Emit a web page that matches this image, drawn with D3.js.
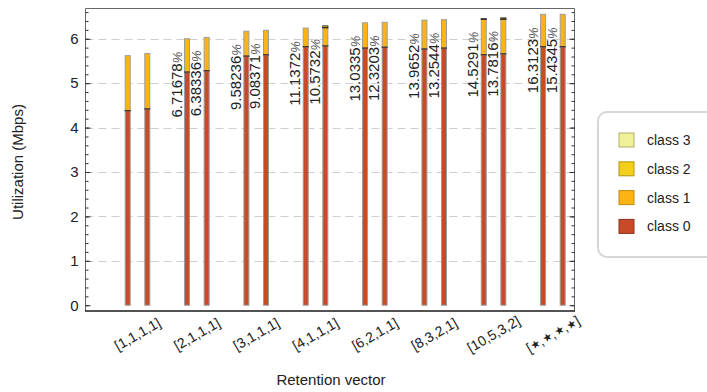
<!DOCTYPE html>
<html>
<head>
<meta charset="utf-8">
<script src="https://cdn.jsdelivr.net/npm/d3@7"></script>
<style>
  body { margin: 0; background: #fff; }
  text { font-family: "Liberation Sans", Arial, sans-serif; fill: #222; }
</style>
</head>
<body>
<svg id="chart" width="707" height="392"></svg>
<script>
// Retention vectors (two runs per vector)
const groups = ["[1,1,1,1]", "[2,1,1,1]", "[3,1,1,1]", "[4,1,1,1]",
                "[6,2,1,1]", "[8,3,2,1]", "[10,5,3,2]", "[\u2605,\u2605,\u2605,\u2605]"];

// Utilization per class (Mbps), one entry per bar, two bars per group
const class0 = [4.38, 4.42, 5.25, 5.28, 5.61, 5.64, 5.82, 5.84,
                5.79, 5.81, 5.77, 5.79, 5.64, 5.66, 5.82, 5.82];
const class1 = [1.24, 1.25, 0.75, 0.75, 0.56, 0.55, 0.42, 0.41,
                0.57, 0.56, 0.65, 0.64, 0.80, 0.78, 0.73, 0.73];
const class2 = [0, 0, 0, 0, 0, 0, 0, 0.04,
                0, 0, 0, 0, 0.01, 0.03, 0, 0];
const class3 = [0, 0, 0, 0, 0, 0, 0, 0,
                0, 0, 0, 0, 0, 0, 0, 0];

// Percentage annotations per bar (none for the baseline vector)
const shareLabels = [null, null, 6.71678, 6.38336, 9.58236, 9.08371, 11.1372, 10.5732,
                     13.0335, 12.3203, 13.9652, 13.2544, 14.5291, 13.7816, 16.3123, 15.4345];

const yTicks = [0, 1, 2, 3, 4, 5, 6];
const classNames = ["class 0", "class 1", "class 2", "class 3"];
const classColors = ["#C94A29", "#FBB414", "#F3CF1B", "#F0F09B"];
const classEdges = ["#8A3420", "#C08A10", "#B09515", "#B0B070"];

const svg = d3.select("#chart");

const frame = { left: 85.5, right: 574.5, top: 8.5, bottom: 311 };

const y = d3.scaleLinear().domain([-0.13, 6.67]).range([311, 9]);
const xg = d3.scalePoint().domain(groups).range([137.5, 552.9]);
const xs = d3.scalePoint().domain([0, 1]).range([-9.8, 9.8]);

const rows = class0.map((v, i) => ({
  idx: i, group: groups[Math.floor(i / 2)], slot: i % 2,
  c0: v, c1: class1[i], c2: class2[i], c3: class3[i], label: shareLabels[i]
}));
const keys = ["c0", "c1", "c2", "c3"];
const stacked = d3.stack().keys(keys)(rows);
const barX = d => xg(d.group) + xs(d.slot);
const total = d => d.c0 + d.c1 + d.c2 + d.c3;

// Dashed horizontal grid
svg.append("g")
  .selectAll("line")
  .data(yTicks.filter(t => t > 0))
  .join("line")
  .attr("x1", frame.left).attr("x2", frame.right)
  .attr("y1", d => Math.round(y(d)) + 0.5).attr("y2", d => Math.round(y(d)) + 0.5)
  .attr("stroke", "#cfcfcf").attr("stroke-width", 1)
  .attr("stroke-dasharray", "8,5");

// Frame
svg.append("path")
  .attr("d", `M${frame.left},${frame.bottom}V${frame.top}H${frame.right}V${frame.bottom}`)
  .attr("fill", "none").attr("stroke", "#666").attr("stroke-width", 1);
svg.append("line")
  .attr("x1", frame.left - 0.5).attr("x2", frame.right + 0.5)
  .attr("y1", frame.bottom).attr("y2", frame.bottom)
  .attr("stroke", "#1a1a1a").attr("stroke-width", 1.5);

// Y axes: major + minor ticks, inward on both sides
const minorTicks = d3.range(0, 6.7, 0.2).map(v => +v.toFixed(1));
const leftMajor = svg.append("g").attr("transform", `translate(${frame.left},0)`)
  .call(d3.axisLeft(y).tickValues(yTicks).tickSize(-5).tickSizeOuter(0).tickPadding(7).tickFormat(d3.format("d")));
leftMajor.select(".domain").remove();
leftMajor.selectAll("text").style("font-size", "15px").attr("fill", "#222");
leftMajor.selectAll("line").attr("stroke", "#333");

const leftMinor = svg.append("g").attr("transform", `translate(${frame.left},0)`)
  .call(d3.axisLeft(y).tickValues(minorTicks).tickSize(-3).tickSizeOuter(0).tickFormat(""));
leftMinor.select(".domain").remove();
leftMinor.selectAll("line").attr("stroke", "#333");

const rightMajor = svg.append("g").attr("transform", `translate(${frame.right},0)`)
  .call(d3.axisRight(y).tickValues(yTicks).tickSize(-5).tickSizeOuter(0).tickFormat(""));
rightMajor.select(".domain").remove();
rightMajor.selectAll("line").attr("stroke", "#333");
const rightMinor = svg.append("g").attr("transform", `translate(${frame.right},0)`)
  .call(d3.axisRight(y).tickValues(minorTicks).tickSize(-3).tickSizeOuter(0).tickFormat(""));
rightMinor.select(".domain").remove();
rightMinor.selectAll("line").attr("stroke", "#333");

// Stacked bars
const barW = 5;
const layers = svg.append("g").selectAll("g")
  .data(stacked)
  .join("g");
layers.each(function (layer, li) {
  d3.select(this).selectAll("rect")
    .data(layer.filter(s => s[1] - s[0] > 0))
    .join("rect")
    .attr("x", s => barX(s.data) - barW / 2)
    .attr("width", barW)
    .attr("y", s => y(s[1]))
    .attr("height", s => y(s[0]) - y(s[1]))
    .attr("fill", classColors[li])
    .attr("stroke", li >= 2 ? "#333" : "#9c9c9c")
    .attr("stroke-width", 1);
});
// Dark separators between stacked segments
svg.append("g").selectAll("line")
  .data(stacked.slice(0, 3).flatMap(layer =>
    layer.filter(s => s[1] - s[0] > 0 && s[1] < total(s.data) - 1e-9)))
  .join("line")
  .attr("x1", s => barX(s.data) - barW / 2 - 0.5)
  .attr("x2", s => barX(s.data) + barW / 2 + 0.5)
  .attr("y1", s => y(s[1])).attr("y2", s => y(s[1]))
  .attr("stroke", "#3a2a22").attr("stroke-width", 1.2);

// Rotated percentage annotations
const notes = svg.append("g").selectAll("text")
  .data(rows.filter(r => r.label !== null))
  .join("text")
  .attr("transform", r => `translate(${barX(r) - 5.5},${y(total(r)) + 13}) rotate(-90)`)
  .attr("text-anchor", "end")
  .style("font-size", "15px");
notes.append("tspan").text(r => String(r.label));
notes.append("tspan").text("%").style("font-size", "13px").style("font-style", "italic").attr("fill", "#555");

// X tick labels (star placeholders drawn smaller)
const xLabels = svg.append("g").selectAll("text")
  .data(groups)
  .join("text")
  .attr("transform", g => `translate(${xg(g)},334) rotate(-30)`)
  .attr("text-anchor", "middle")
  .attr("dominant-baseline", "central")
  .style("font-size", "14px");
xLabels.each(function (g) {
  const t = d3.select(this);
  g.split(/(\u2605)/).filter(p => p.length).forEach(p => {
    const sp = t.append("tspan").text(p);
    if (p === "\u2605") sp.style("font-size", "11px");
  });
});

// Axis titles
svg.append("text")
  .attr("x", 331).attr("y", 385)
  .attr("text-anchor", "middle")
  .style("font-size", "15px")
  .text("Retention vector");
svg.append("text")
  .attr("transform", "translate(23,162) rotate(-90)")
  .attr("text-anchor", "middle")
  .style("font-size", "15px")
  .text("Utilization (Mbps)");

// Legend
const legend = svg.append("g");
legend.append("rect")
  .attr("x", 598).attr("y", 112).attr("width", 130).attr("height", 145)
  .attr("rx", 9).attr("fill", "#fff")
  .attr("stroke", "#d6d6d6").attr("stroke-width", 2);
const order = [3, 2, 1, 0];
const items = legend.selectAll("g.item")
  .data(order)
  .join("g")
  .attr("class", "item")
  .attr("transform", (c, i) => `translate(619,${133 + i * 28.8})`);
items.append("rect")
  .attr("width", 15).attr("height", 14)
  .attr("fill", c => classColors[c])
  .attr("stroke", c => classEdges[c]).attr("stroke-width", 1);
items.append("text")
  .attr("x", 28).attr("y", 7)
  .attr("dominant-baseline", "central")
  .style("font-size", "14px")
  .text(c => classNames[c]);
</script>
</body>
</html>
